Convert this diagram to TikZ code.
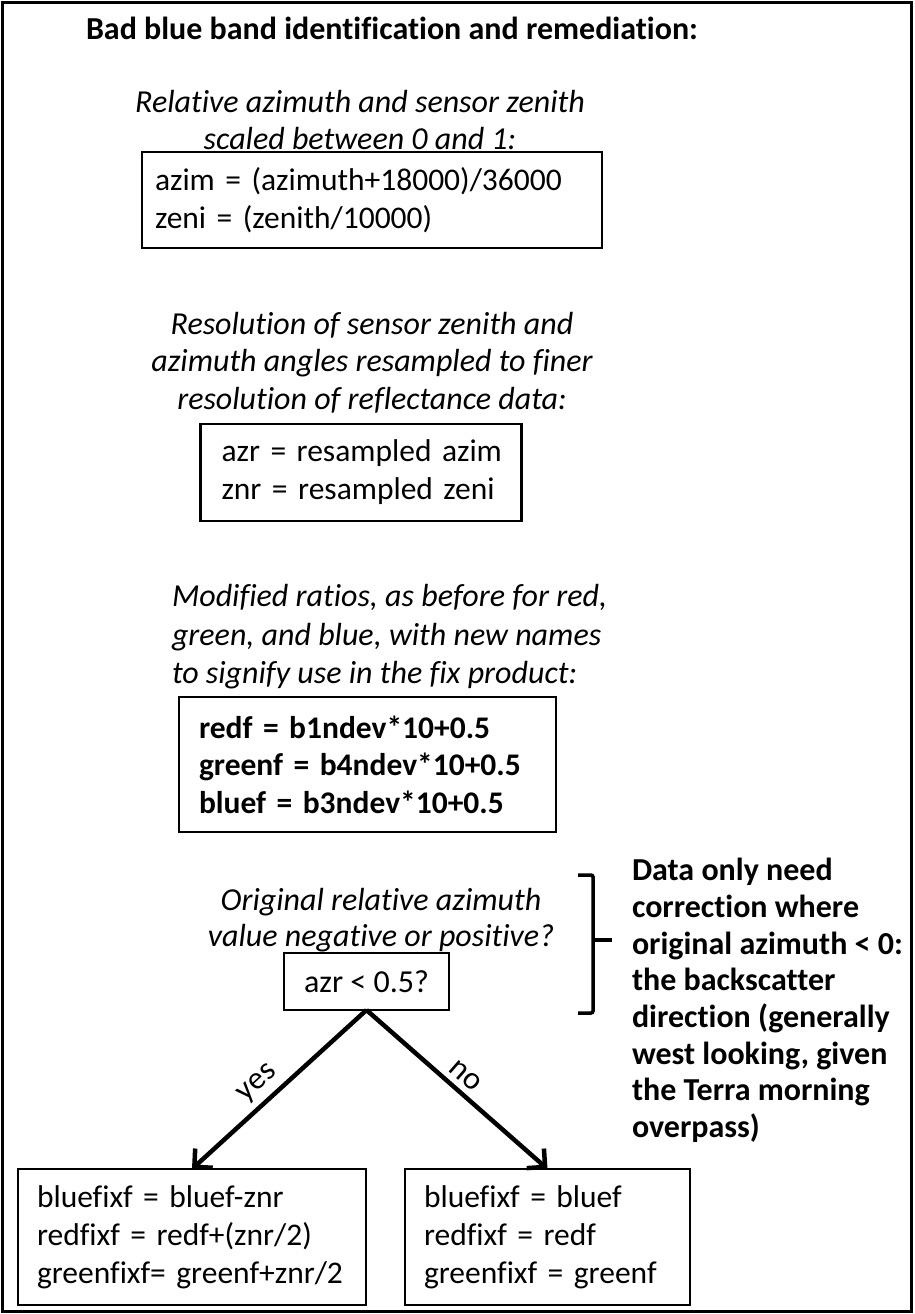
\documentclass[tikz,border=0pt]{standalone}
\usepackage{fontspec}
\setmainfont{Carlito}[Ligatures={TeX,NoCommon}]
\usetikzlibrary{arrows.meta}
\begin{document}
\begin{tikzpicture}[x=1pt,y=-1pt,
  every node/.style={inner sep=0pt, outer sep=0pt},
  txt/.style={font=\fontsize{32}{36}\selectfont},
  captxt/.style={font=\fontsize{32}{37.5}\selectfont\itshape, align=center},
  fbox/.style={draw, line width=2.2pt, inner ysep=0pt, align=left},
  arrw/.style={line width=4.5pt, -{Straight Barb[length=13pt,width=26pt]}},
  lbl/.style={font=\fontsize{32}{36}\selectfont, sloped, above=8pt}]
\useasboundingbox (0,0) rectangle (914,1314);
\draw[line width=3pt] (2.5,2.5) rectangle (911.5,1311.5);

\node[anchor=west, font=\fontsize{32}{36}\selectfont\bfseries] (title) at (86,28)
  {Bad blue band identification and remediation:};

\node[captxt] (c1) at (360,120)
  {Relative azimuth and sensor zenith\\scaled between 0 and 1:};
\node[fbox, font=\fontsize{31.5}{37.5}\selectfont, inner xsep=13pt, text width=434pt, minimum height=96pt] (b1) at (372,200)
  {\mbox{azim = (azimuth+18000)/36000}\\\mbox{zeni = (zenith/10000)}};

\node[captxt] (c2) at (372,362.5)
  {Resolution of sensor zenith and\\azimuth angles resampled to finer\\resolution of reflectance data:};
\node[fbox, font=\fontsize{31.5}{38}\selectfont, inner xsep=21pt, text width=279pt, minimum height=97pt] (b2) at (361,472.5)
  {\mbox{azr = resampled azim}\\\mbox{znr = resampled zeni}};

\node[captxt, align=left, anchor=west, font=\fontsize{32}{38.5}\selectfont\itshape] (c3) at (172,637)
  {Modified ratios, as before for red,\\green, and blue, with new names\\to signify use in the fix product:};
\node[fbox, font=\fontsize{31.5}{37.5}\selectfont\bfseries, inner xsep=20pt, text width=337pt, minimum height=135pt] (b3) at (367.5,764.5)
  {\mbox{redf = b1ndev*10+0.5}\\\mbox{greenf = b4ndev*10+0.5}\\\mbox{bluef = b3ndev*10+0.5}};

\node[captxt, font=\fontsize{32}{36}\selectfont\itshape] (c4) at (381,920)
  {Original relative azimuth\\value negative or positive?};
\node[fbox, txt, align=center, minimum width=165pt, minimum height=57pt] (q) at (366.5,981.5)
  {azr < 0.5?};

\draw[line width=3.5pt, rounded corners=2pt] (578,875) -- (593,875) -- (593,1013) -- (578,1013);
\draw[line width=3.5pt] (593,940) -- (612,940);
\node[anchor=west, align=left, font=\fontsize{32}{36.7}\selectfont\bfseries] (note) at (632,1000.5)
  {Data only need\\correction where\\original azimuth < 0:\\the backscatter\\direction (generally\\west looking, given\\the Terra morning\\overpass)};

\node[fbox, font=\fontsize{31.5}{38}\selectfont, inner xsep=19pt, text width=310pt, minimum height=136pt] (yesbox) at (192,1237)
  {\mbox{bluefixf = bluef-znr}\\\mbox{redfixf = redf+(znr/2)}\\\mbox{greenfixf= greenf+znr/2}};
\node[fbox, font=\fontsize{31.5}{38}\selectfont, inner xsep=19pt, text width=247pt, minimum height=136pt] (nobox) at (547.5,1237)
  {\mbox{bluefixf = bluef}\\\mbox{redfixf = redf}\\\mbox{greenfixf = greenf}};

\draw[arrw] (q.south) -- node[lbl, pos=0.55] {yes} (yesbox.north);
\draw[arrw] (q.south) -- node[lbl, pos=0.49] {no} (nobox.north);
\end{tikzpicture}
\end{document}
